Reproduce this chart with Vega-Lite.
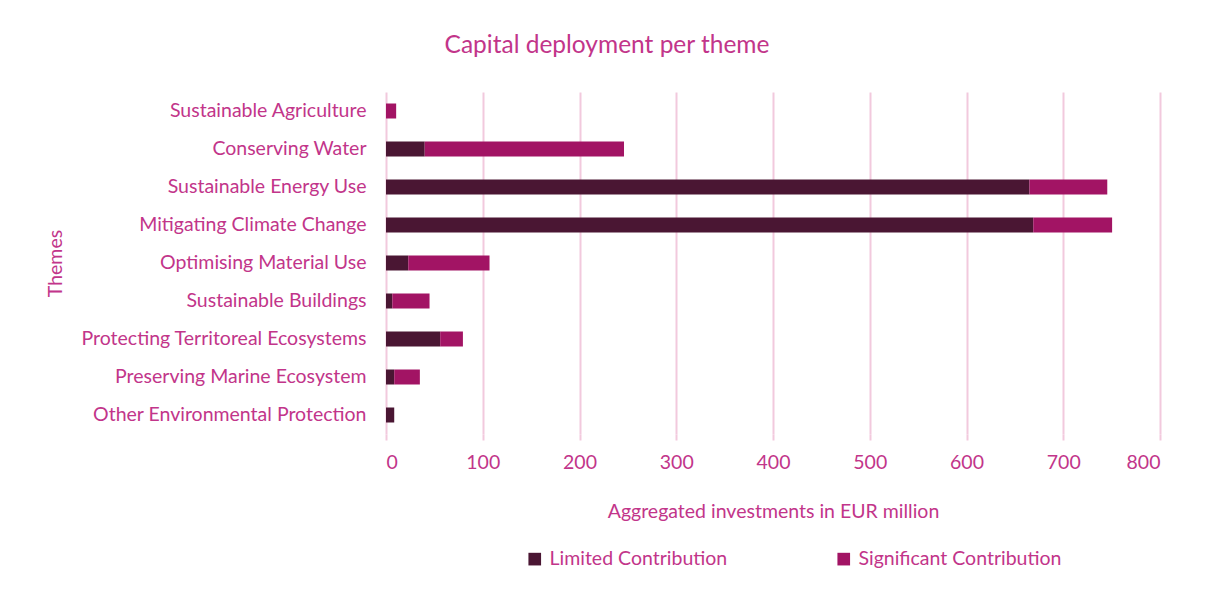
{
  "$schema": "https://vega.github.io/schema/vega-lite/v6.json",
  "width": 774,
  "height": 342,
  "autosize": "none",
  "padding": {"left": 386, "top": 92, "right": 45, "bottom": 157},
  "background": "white",
  "title": {
    "text": "Capital deployment per theme",
    "anchor": "middle",
    "frame": "group",
    "dx": -166,
    "offset": 34,
    "fontSize": 24.5,
    "font": "Lato",
    "fontWeight": "normal",
    "color": "#C2358A"
  },
  "data": {
    "values": [
      {"theme": "Sustainable Agriculture", "type": "Limited Contribution", "value": 0},
      {"theme": "Sustainable Agriculture", "type": "Significant Contribution", "value": 10.5},
      {"theme": "Conserving Water", "type": "Limited Contribution", "value": 40},
      {"theme": "Conserving Water", "type": "Significant Contribution", "value": 206},
      {"theme": "Sustainable Energy Use", "type": "Limited Contribution", "value": 665},
      {"theme": "Sustainable Energy Use", "type": "Significant Contribution", "value": 80.5},
      {"theme": "Mitigating Climate Change", "type": "Limited Contribution", "value": 669},
      {"theme": "Mitigating Climate Change", "type": "Significant Contribution", "value": 81.5},
      {"theme": "Optimising Material Use", "type": "Limited Contribution", "value": 23},
      {"theme": "Optimising Material Use", "type": "Significant Contribution", "value": 84},
      {"theme": "Sustainable Buildings ", "type": "Limited Contribution", "value": 6.5},
      {"theme": "Sustainable Buildings ", "type": "Significant Contribution", "value": 38.5},
      {"theme": "Protecting Territoreal Ecosystems", "type": "Limited Contribution", "value": 56},
      {"theme": "Protecting Territoreal Ecosystems", "type": "Significant Contribution", "value": 23.5},
      {"theme": "Preserving Marine Ecosystem", "type": "Limited Contribution", "value": 8.5},
      {"theme": "Preserving Marine Ecosystem", "type": "Significant Contribution", "value": 26.5},
      {"theme": "Other Environmental Protection", "type": "Limited Contribution", "value": 8.5},
      {"theme": "Other Environmental Protection", "type": "Significant Contribution", "value": 0}
    ]
  },
  "mark": {"type": "bar", "height": 15},
  "encoding": {
    "y": {
      "field": "theme",
      "type": "nominal",
      "sort": null,
      "scale": {"paddingInner": 0.6, "paddingOuter": 0.3},
      "axis": {
        "title": "Themes",
        "titleX": -331,
        "titleY": 171,
        "titleAngle": -90,
        "titleBaseline": "middle",
        "titleAlign": "center",
        "titleFont": "Lato",
        "titleFontSize": 19.5,
        "titleFontWeight": "normal",
        "titleColor": "#C2358A",
        "labelFont": "Lato",
        "labelFontSize": 19.5,
        "labelColor": "#C2358A",
        "labelPadding": 20,
        "labelLimit": 400,
        "ticks": false,
        "domain": false,
        "grid": false
      }
    },
    "x": {
      "field": "value",
      "type": "quantitative",
      "scale": {"domain": [0, 800], "nice": false},
      "axis": {
        "title": "Aggregated investments in EUR million",
        "titleY": 77,
        "titleBaseline": "middle",
        "titleFont": "Lato",
        "titleFontSize": 19.5,
        "titleFontWeight": "normal",
        "titleColor": "#C2358A",
        "labelFont": "Lato",
        "labelFontSize": 19.5,
        "labelColor": "#C2358A",
        "labelPadding": 13,
        "labelOverlap": false,
        "values": [0, 100, 200, 300, 400, 500, 600, 700, 800],
        "tickSize": 6,
        "tickColor": "#F2C9DD",
        "tickWidth": 2,
        "grid": true,
        "gridColor": "#F2C9DD",
        "gridWidth": 2,
        "domain": false
      }
    },
    "color": {
      "field": "type",
      "type": "nominal",
      "scale": {
        "domain": ["Limited Contribution", "Significant Contribution"],
        "range": ["#4A1633", "#A21464"]
      },
      "legend": {
        "title": null,
        "orient": "none",
        "direction": "horizontal",
        "legendX": 139,
        "legendY": 457,
        "symbolType": "square",
        "symbolSize": 160,
        "symbolStrokeWidth": 0,
        "labelFont": "Lato",
        "labelFontSize": 19.5,
        "labelColor": "#C2358A",
        "labelOffset": 5,
        "columnPadding": 106,
        "labelLimit": 300
      }
    }
  },
  "config": {
    "view": {"stroke": null},
    "bar": {"stroke": null}
  }
}
